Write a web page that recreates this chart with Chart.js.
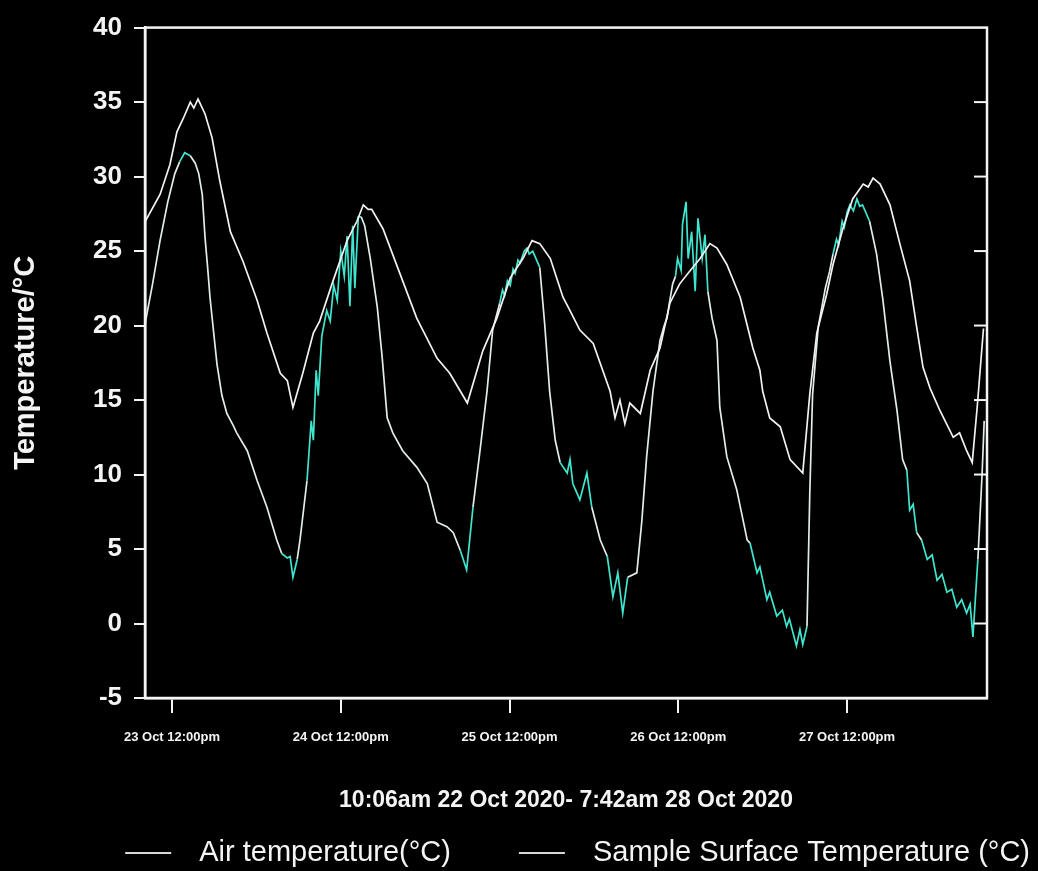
<!DOCTYPE html>
<html>
<head>
<meta charset="utf-8">
<script src="https://cdn.jsdelivr.net/npm/chart.js@4.4.1/dist/chart.umd.min.js"></script>
<style>
  html, body { margin:0; padding:0; background:#000; }
  #wrap { width:1038px; height:871px; }
</style>
</head>
<body>
<div id="wrap"><canvas id="c" width="1038" height="871"></canvas></div>
<script>
// hours counted from 00:00 22 Oct 2020
const airHours = [32.2,34.3,35.7,36.7,37.6,38.6,39.1,39.7,40.7,41.7,42.8,44.3,46.1,48.1,49.5,51.4,52.4,53.2,54.6,56.1,57.0,58.9,60.9,62.3,63.2,63.9,64.4,66.0,68.4,70.8,73.7,75.5,78.0,80.2,82.2,84.1,85.9,87.2,88.3,89.8,91.6,92.6,94.0,95.9,98.3,99.0,99.7,100.4,101.1,102.6,104.0,105.4,106.8,108.2,109.7,111.1,112.5,113.5,114.9,116.8,118.6,119.6,120.0,121.0,122.5,123.9,125.7,126.7,127.7,129.1,130.0,131.4,132.8,134.3,135.0,135.7,136.7,138.1,139.5,140.9,141.9,142.8,143.8,145.2,147.1,148.0,149.0,149.8,150.5,151.4];
const airTemp  = [27.0,28.8,30.8,33.0,33.9,35.0,34.6,35.2,34.2,32.6,29.7,26.3,24.3,21.7,19.5,16.8,16.3,14.5,16.8,19.5,20.3,23.0,25.7,27.0,28.1,27.8,27.8,26.5,23.5,20.5,17.8,16.8,14.8,18.3,20.5,23.2,24.5,25.7,25.5,24.5,21.9,21.0,19.7,18.8,15.6,13.8,15.0,13.4,14.8,14.1,17.0,18.5,21.5,22.8,23.7,24.5,25.5,25.2,24.1,21.9,18.5,17.0,15.6,13.8,13.2,11.0,10.1,15.4,19.5,22.1,24.1,26.5,28.5,29.5,29.3,29.9,29.5,28.1,25.5,23.0,19.9,17.2,15.8,14.3,12.5,12.8,11.6,10.8,14.5,19.8];

const surfHours = [32.2,33.2,34.3,35.4,36.4,37.1,37.8,38.6,39.3,39.8,40.3,40.7,41.1,41.4,42.4,43.1,43.8,44.7,45.2,46.7,48.1,49.5,50.9,51.6,52.4,52.8,53.2,53.8,54.2,55.2,55.8,56.1,56.5,56.8,57.3,58.0,58.5,59.0,59.5,60.0,60.5,60.9,61.3,61.7,62.0,62.5,62.9,63.4,64.2,65.2,65.9,66.6,67.4,68.8,70.8,72.3,73.7,75.1,76.0,77.0,77.9,78.8,79.8,80.8,81.6,82.6,83.0,83.3,83.7,84.1,84.5,84.8,85.2,85.5,86.1,86.5,86.8,87.3,88.3,89.0,89.7,90.5,91.2,92.2,92.6,93.0,94.0,95.0,95.7,96.9,97.9,98.7,99.4,100.1,100.8,102.1,102.8,103.5,104.4,105.4,106.0,106.4,106.8,107.2,107.6,107.9,108.4,108.6,109.1,109.4,109.9,110.4,110.8,111.4,111.8,112.2,112.8,113.5,113.9,114.9,116.3,117.8,118.2,119.2,119.6,120.6,121.0,122.0,122.8,123.4,123.8,124.8,125.3,125.7,126.3,126.7,127.1,127.9,128.9,129.5,130.0,130.5,130.8,131.3,131.6,132.0,132.4,132.9,133.4,133.8,134.2,135.2,136.2,137.1,138.1,139.1,139.9,140.5,140.9,141.4,141.9,142.6,143.4,144.1,144.8,145.5,146.2,146.9,147.6,148.3,149.0,149.5,149.9,150.6,151.2,151.5];
const surfTemp  = [20.2,22.7,25.7,28.3,30.2,31.0,31.6,31.4,30.9,30.2,28.8,25.9,23.7,21.9,17.4,15.3,14.1,13.3,12.8,11.6,9.6,7.8,5.6,4.7,4.4,4.5,3.1,4.3,5.6,9.6,13.6,12.3,17.0,15.3,19.3,21.0,20.3,22.7,21.7,25.0,23.3,26.0,21.3,26.7,22.5,27.3,27.3,26.7,24.5,21.2,17.8,13.8,12.8,11.6,10.5,9.4,6.8,6.5,6.1,4.9,3.6,7.8,11.6,15.6,19.7,21.5,22.4,22.0,23.0,22.7,23.8,23.5,24.4,24.2,25.0,25.2,24.8,25.0,23.9,20.1,15.6,12.3,10.8,10.1,11.0,9.4,8.3,10.1,7.8,5.6,4.5,1.8,3.4,0.7,3.1,3.4,6.8,11.2,15.6,19.0,20.0,20.5,21.7,22.8,23.3,24.5,23.7,26.8,28.3,24.5,26.3,22.3,27.2,24.5,26.1,22.3,20.5,19.0,14.5,11.2,9.0,5.6,5.4,3.4,3.8,1.6,2.1,0.5,0.9,-0.2,0.3,-1.5,-0.4,-1.4,-0.2,8.8,15.4,19.9,22.5,23.6,24.8,25.8,25.4,27.0,26.6,27.6,28.1,27.7,28.5,28.0,28.1,27.0,24.8,21.7,17.6,14.3,11.0,10.3,7.6,8.0,6.1,5.6,4.3,4.6,2.9,3.3,2.1,2.3,1.1,1.6,0.7,1.3,-0.9,4.3,10.0,13.6];

const tickHours  = [36, 60, 84, 108, 132];
const tickLabels = ['23 Oct 12:00pm', '24 Oct 12:00pm', '25 Oct 12:00pm', '26 Oct 12:00pm', '27 Oct 12:00pm'];
const yTicks = [-5, 0, 5, 10, 15, 20, 25, 30, 35, 40];

const FONT = '"Liberation Sans", Arial, sans-serif';
const AIR = '#f2f2f2', SURF = '#e2ece9', CYAN = '#3fe6cf', INK = '#f4f4f4';

// a segment is tinted cyan where the trace zigzags (noisy stretches)
function zig(data, i) {
  const s = k => (k < 0 || k + 1 >= data.length) ? 0 : Math.sign(data[k+1].y - data[k].y);
  const cur = s(i);
  return (s(i-1) !== 0 && s(i-1) !== cur) || (s(i+1) !== 0 && s(i+1) !== cur);
}

// closed box + inward ticks on the right side
const frame = {
  id: 'frame',
  afterDatasetsDraw(chart) {
    const {ctx, chartArea: a, scales} = chart;
    ctx.save();
    ctx.strokeStyle = INK;
    ctx.lineWidth = 2.5;
    ctx.strokeRect(a.left, a.top, a.right - a.left, a.bottom - a.top);
    ctx.lineWidth = 2;
    yTicks.slice(1, -1).forEach(v => {
      const y = scales.y.getPixelForValue(v);
      ctx.beginPath(); ctx.moveTo(a.right - 13, y); ctx.lineTo(a.right, y); ctx.stroke();
    });
    ctx.restore();
  }
};

// legend drawn by hand so the spacing can follow the original
const legendRow = {
  id: 'legendRow',
  afterDraw(chart) {
    const {ctx} = chart;
    const ds = chart.data.datasets;
    ctx.save();
    ctx.font = '29px ' + FONT;
    ctx.textBaseline = 'middle';
    const y = 853, lineLen = 46, gapText = 28, gapItem = 68;
    const w = ds.map(d => ctx.measureText(d.label).width);
    let x = 1030 - w[1] - gapText - lineLen - gapItem - w[0] - gapText - lineLen;
    ds.forEach((d, i) => {
      ctx.strokeStyle = '#d8d8d8'; ctx.lineWidth = 2;
      ctx.beginPath(); ctx.moveTo(x, y); ctx.lineTo(x + lineLen, y); ctx.stroke();
      x += lineLen + gapText;
      ctx.fillStyle = INK;
      ctx.fillText(d.label, x, y);
      x += w[i] + gapItem;
    });
    ctx.restore();
  }
};

const airPts  = airHours.map((h, i) => ({x: h, y: airTemp[i]}));
const surfPts = surfHours.map((h, i) => ({x: h, y: surfTemp[i]}));

new Chart(document.getElementById('c'), {
  type: 'line',
  data: {
    datasets: [
      {label: 'Air temperature(°C)', data: airPts, borderColor: AIR, backgroundColor: AIR, borderWidth: 1.7, pointRadius: 0, tension: 0},
      {label: 'Sample Surface Temperature (°C)', data: surfPts, borderColor: SURF, backgroundColor: SURF, borderWidth: 1.7, pointRadius: 0, tension: 0,
       segment: {borderColor: c => zig(surfPts, c.p0DataIndex) ? CYAN : SURF}},
    ]
  },
  options: {
    responsive: false, animation: false,
    layout: {padding: {top: 23, right: 51, left: 0, bottom: 43}},
    plugins: {legend: {display: false}, tooltip: {enabled: false}},
    scales: {
      x: {
        type: 'linear', min: 32.16, max: 151.9,
        afterBuildTicks: s => { s.ticks = tickHours.map(v => ({value: v})); },
        afterFit: s => { s.height = 130; },
        grid: {drawOnChartArea: false, color: INK, tickLength: 15, lineWidth: 2},
        border: {color: INK, width: 2.5},
        ticks: {color: INK, font: {family: FONT, size: 13, weight: 'bold'}, padding: 17, maxRotation: 0,
                callback: v => tickLabels[tickHours.indexOf(v)]},
        title: {display: true, text: '10:06am 22 Oct 2020- 7:42am 28 Oct 2020', color: INK,
                font: {family: FONT, size: 23, weight: 'bold'}, padding: {top: 0, bottom: 14}}
      },
      y: {
        min: -5, max: 40,
        afterBuildTicks: s => { s.ticks = yTicks.map(v => ({value: v})); },
        afterFit: s => { s.width = 145; },
        grid: {drawOnChartArea: false, color: INK, tickLength: 11, lineWidth: 2},
        border: {color: INK, width: 2.5},
        ticks: {color: INK, font: {family: FONT, size: 26, weight: 'bold'}, padding: 12},
        title: {display: true, text: 'Temperature/°C', color: INK,
                font: {family: FONT, size: 29, weight: 'bold'}, padding: {top: 9, bottom: 0}}
      }
    }
  },
  plugins: [frame, legendRow]
});
</script>
</body>
</html>
